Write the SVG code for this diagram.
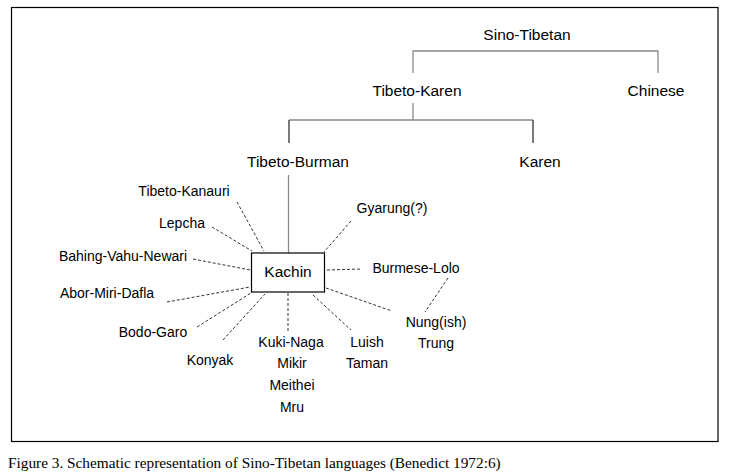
<svg xmlns="http://www.w3.org/2000/svg" width="735" height="475" viewBox="0 0 735 475">
<style>
text{font-family:"Liberation Sans",Arial,sans-serif;fill:#000;text-anchor:middle}
.t{font-size:15.5px}
.s{font-size:14px}
.tree{stroke:#8a8a8a;stroke-width:1.3;fill:none}
.tree2{stroke:#222;stroke-width:1.2;fill:none}
.dot{stroke:#333;stroke-width:1;stroke-dasharray:3 2;fill:none}
.cap{font-family:"Liberation Serif","Times New Roman",serif;font-size:15.3px;text-anchor:start}
</style>
<rect x="11.5" y="7.5" width="706.5" height="434" fill="#fff" stroke="#000" stroke-width="1.2"/>
<g id="connectors">
<path class="tree" d="M413 73V51H658V73"/>
<path class="tree" d="M413 103V120M289 120H533"/>
<path class="tree2" d="M289 120V143M533 120V143"/>
<path class="tree" d="M288.5 175V253"/>
<line class="dot" x1="237" y1="202" x2="264" y2="251"/>
<line class="dot" x1="212" y1="227" x2="252" y2="251"/>
<line class="dot" x1="193" y1="259" x2="250" y2="270"/>
<line class="dot" x1="167" y1="302" x2="250" y2="287"/>
<line class="dot" x1="197" y1="327" x2="251" y2="293"/>
<line class="dot" x1="223" y1="340" x2="265" y2="294"/>
<line class="dot" x1="351" y1="221" x2="324" y2="252"/>
<line class="dot" x1="327" y1="270" x2="362" y2="269"/>
<line class="dot" x1="288" y1="293" x2="288" y2="333"/>
<line class="dot" x1="313" y1="295" x2="351" y2="330"/>
<line class="dot" x1="326" y1="288" x2="392" y2="311"/>
<line class="dot" x1="448" y1="278" x2="425" y2="312"/>
</g>
<g id="sino-tibetan"><text class="t" x="527" y="40">Sino-Tibetan</text></g>
<g id="tibeto-karen"><text class="t" x="417" y="96">Tibeto-Karen</text></g>
<g id="chinese"><text class="t" x="656" y="96">Chinese</text></g>
<g id="tibeto-burman"><text class="t" x="298" y="167">Tibeto-Burman</text></g>
<g id="karen"><text class="t" x="540" y="167">Karen</text></g>
<g id="kachin"><rect x="251.5" y="253" width="73" height="39" fill="#fff" stroke="#000" stroke-width="1.2"/><text class="t" x="288" y="277">Kachin</text></g>
<g id="tibeto-kanauri"><text class="s" x="184" y="196">Tibeto-Kanauri</text></g>
<g id="lepcha"><text class="s" x="182" y="228">Lepcha</text></g>
<g id="bahing"><text class="s" x="123" y="261">Bahing-Vahu-Newari</text></g>
<g id="abor"><text class="s" x="107" y="298">Abor-Miri-Dafla</text></g>
<g id="bodo-garo"><text class="s" x="153" y="337">Bodo-Garo</text></g>
<g id="konyak"><text class="s" x="210" y="365">Konyak</text></g>
<g id="gyarung"><text class="s" x="392" y="213">Gyarung(?)</text></g>
<g id="burmese-lolo"><text class="s" x="416" y="273">Burmese-Lolo</text></g>
<g id="nung"><text class="s" x="436" y="327">Nung(ish)</text><text class="s" x="436" y="348">Trung</text></g>
<g id="kuki-naga"><text class="s" x="291" y="347">Kuki-Naga</text><text class="s" x="292" y="368">Mikir</text><text class="s" x="292" y="390">Meithei</text><text class="s" x="292" y="412">Mru</text></g>
<g id="luish"><text class="s" x="367" y="347">Luish</text><text class="s" x="367" y="368">Taman</text></g>
<text class="cap" x="8" y="468">Figure 3. Schematic representation of Sino-Tibetan languages (Benedict 1972:6)</text>
</svg>
